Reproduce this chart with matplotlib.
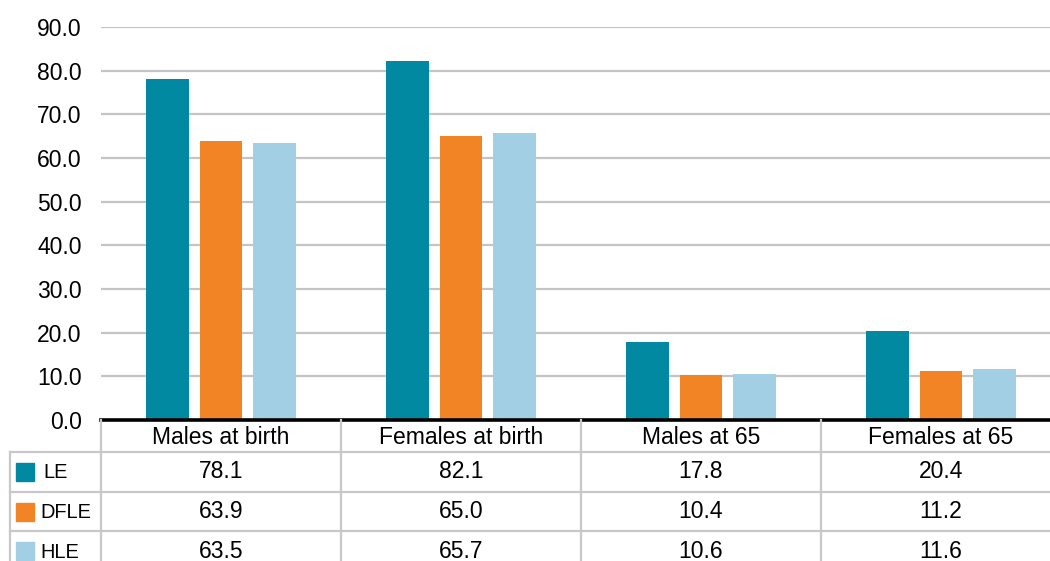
import matplotlib
matplotlib.use("Agg")
import matplotlib.pyplot as plt
from matplotlib.patches import Rectangle

plt.rcParams['font.family'] = ['Liberation Sans', 'DejaVu Sans']

categories = ["Males at birth", "Females at birth", "Males at 65", "Females at 65"]
series_names = ["LE", "DFLE", "HLE"]
le = [78.1, 82.1, 17.8, 20.4]
dfle = [63.9, 65.0, 10.4, 11.2]
hle = [63.5, 65.7, 10.6, 11.6]
series_values = [le, dfle, hle]
colors = ["#0189A1", "#F38425", "#A3CFE4"]
y_ticks = [0, 10, 20, 30, 40, 50, 60, 70, 80, 90]

FS = 16.5

W, H = 1050, 561
fig = plt.figure(figsize=(W / 100, H / 100), dpi=100)

# main plot area (extends a little past the right edge of the figure)
left_px, right_px, top_px, base_px = 101, 1061, 27, 420
ax = fig.add_axes([left_px / W, (H - base_px) / H,
                   (right_px - left_px) / W, (base_px - top_px) / H])
ax.set_xlim(-0.5, len(categories) - 0.5)
ax.set_ylim(0, 90)

bar_w = 0.179
step = 0.221
for i, (vals, col) in enumerate(zip(series_values, colors)):
    xs = [c + (i - 1) * step for c in range(len(categories))]
    ax.bar(xs, vals, width=bar_w, color=col, zorder=3)

ax.set_yticks(y_ticks)
ax.set_yticklabels([f"{v:.1f}" for v in y_ticks], fontsize=FS)
ax.tick_params(axis='y', length=0, pad=14)
ax.set_xticks([])
for s in ax.spines.values():
    s.set_visible(False)
for v in y_ticks[1:]:
    ax.axhline(v, color="#c4c4c4", lw=1.6, zorder=1)
ax.axhline(0, color="black", lw=2.6, zorder=4, clip_on=False)

# data table below the plot
px_per_unit = (right_px - left_px) / len(categories)
tab_h = 151
tax = fig.add_axes([left_px / W, (H - base_px - tab_h) / H,
                    (right_px - left_px) / W, tab_h / H])
tax.set_xlim(-0.5, len(categories) - 0.5)
tax.set_ylim(tab_h, 0)
tax.axis("off")

grid_c = "#c8c8c8"
lbl_x0 = -0.5 - (left_px - 10) / px_per_unit
row_edges = [0, 32, 72, 111, 151]
xmax = len(categories) - 0.5

# horizontal rules
for y in row_edges[1:4]:
    tax.plot([lbl_x0, xmax], [y, y], color=grid_c, lw=1.6, clip_on=False)
# vertical rules
for k in range(len(categories) + 1):
    x = -0.5 + k
    tax.plot([x, x], [0, tab_h], color=grid_c, lw=1.6, clip_on=False)
tax.plot([lbl_x0, lbl_x0], [row_edges[1], tab_h], color=grid_c, lw=1.6, clip_on=False)

for c, name in enumerate(categories):
    tax.text(c, (row_edges[0] + row_edges[1]) / 2 + 1, name, ha="center",
             va="center", fontsize=FS)
for r, (sname, vals, col) in enumerate(zip(series_names, series_values, colors)):
    yc = (row_edges[r + 1] + row_edges[r + 2]) / 2
    if r == 2:
        yc = row_edges[3] + 20
    sw = 18 / px_per_unit
    sx = lbl_x0 + 6 / px_per_unit
    tax.add_patch(Rectangle((sx, yc - 9), sw, 18, color=col, clip_on=False))
    tax.text(lbl_x0 + (33 if r == 0 else 30) / px_per_unit, yc + 1, sname,
             ha="left", va="center", fontsize=14.4, clip_on=False)
    for c, v in enumerate(vals):
        tax.text(c, yc, f"{v:.1f}", ha="center", va="center", fontsize=FS)

fig.savefig("out.png", dpi=100)
